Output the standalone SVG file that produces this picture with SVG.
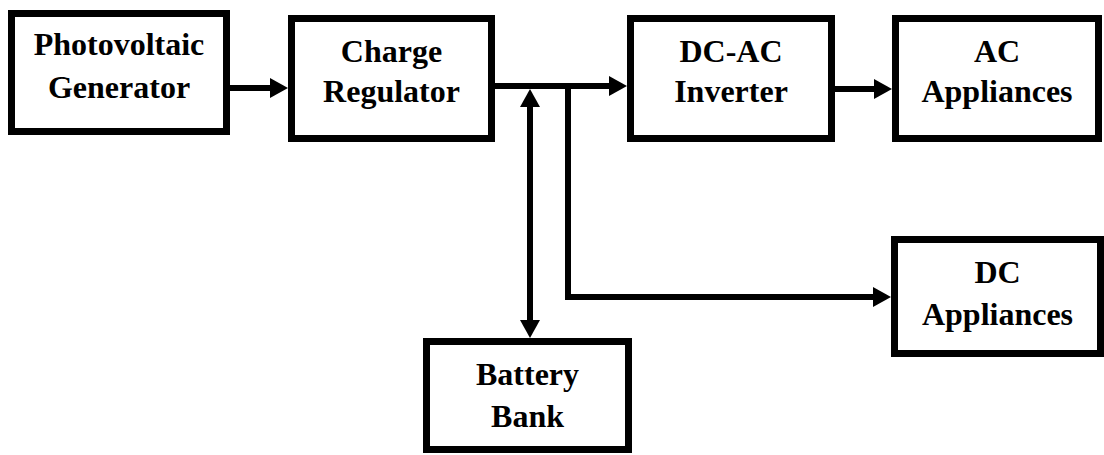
<svg xmlns="http://www.w3.org/2000/svg" width="1104" height="455" viewBox="0 0 1104 455">
<defs>
<style>
.box{fill:#fff;stroke:#000;stroke-width:7}
.lbl{font-family:"Liberation Serif","Times New Roman",serif;font-weight:bold;font-size:32px;fill:#000;text-anchor:middle}
.wire{fill:none;stroke:#000;stroke-width:6;stroke-linejoin:miter}
</style>
<marker id="ah" markerUnits="userSpaceOnUse" markerWidth="18" markerHeight="20" refX="2" refY="10" orient="auto-start-reverse" viewBox="0 0 18 20">
<path d="M0,0 L18,10 L0,20 z" fill="#000"/>
</marker>
</defs>
<rect width="1104" height="455" fill="#fff"/>
<g id="connectors">
<line class="wire" x1="228" y1="88" x2="272" y2="88" marker-end="url(#ah)"/>
<line class="wire" x1="485" y1="86" x2="611" y2="86" marker-end="url(#ah)"/>
<line class="wire" x1="833" y1="89" x2="876" y2="89" marker-end="url(#ah)"/>
<line class="wire" x1="530" y1="105" x2="530" y2="322" marker-start="url(#ah)" marker-end="url(#ah)"/>
<path class="wire" d="M568,83 V297 H875" marker-end="url(#ah)"/>
</g>
<g id="pv">
<rect class="box" x="11.5" y="13.5" width="215" height="118"/>
<text class="lbl" x="119" y="55">Photovoltaic</text>
<text class="lbl" x="119" y="98">Generator</text>
</g>
<g id="cr">
<rect class="box" x="291.5" y="18.5" width="200" height="120"/>
<text class="lbl" x="391.5" y="62">Charge</text>
<text class="lbl" x="391.5" y="102">Regulator</text>
</g>
<g id="inv">
<rect class="box" x="630.5" y="18.5" width="201" height="120"/>
<text class="lbl" x="731" y="62">DC-AC</text>
<text class="lbl" x="731" y="102">Inverter</text>
</g>
<g id="ac">
<rect class="box" x="895.5" y="18.5" width="203" height="120"/>
<text class="lbl" x="997" y="62">AC</text>
<text class="lbl" x="997" y="102">Appliances</text>
</g>
<g id="dc">
<rect class="box" x="894.5" y="239.5" width="206" height="114"/>
<text class="lbl" x="997.5" y="283">DC</text>
<text class="lbl" x="997.5" y="325">Appliances</text>
</g>
<g id="bat">
<rect class="box" x="426.5" y="341.5" width="202" height="108"/>
<text class="lbl" x="527.5" y="385">Battery</text>
<text class="lbl" x="527.5" y="427">Bank</text>
</g>
</svg>
